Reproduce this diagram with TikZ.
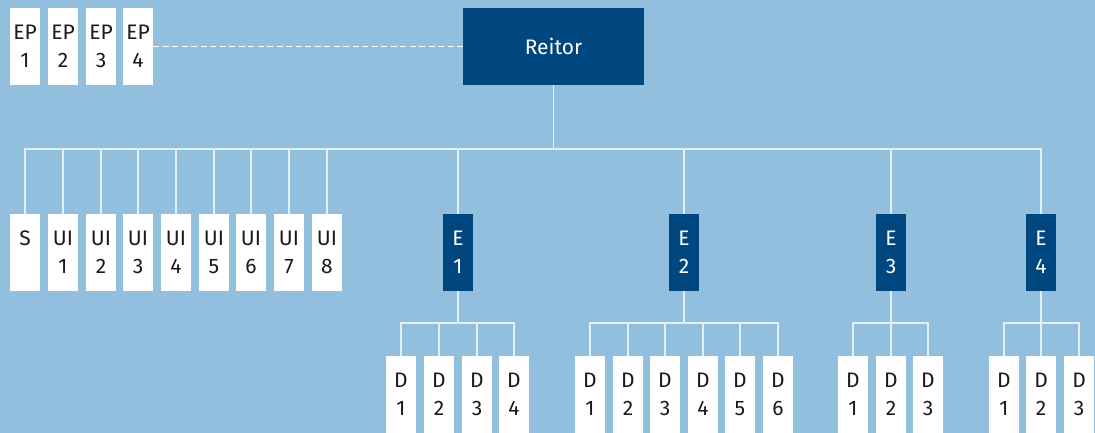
\documentclass[tikz,border=0pt]{standalone}
\usepackage{fontspec}
\setmainfont{Fira Sans}
\usepackage{tikz}
\usetikzlibrary{calc}
\definecolor{bgblue}{HTML}{93BFDE}
\definecolor{darkblue}{HTML}{00477F}
\definecolor{linecol}{HTML}{E4EEF7}
\definecolor{textmain}{HTML}{1A1A1A}

\begin{document}
\begin{tikzpicture}[x=1pt, y=-1pt,
    wbox/.style={fill=white, minimum width=30pt, minimum height=77pt,
                 inner sep=0pt, align=center, text=textmain,
                 font=\fontsize{21}{28}\selectfont},
    dbox/.style={wbox, fill=darkblue, text=white},
    link/.style={draw=linecol, line width=1.3pt},
  ]
  \fill[bgblue] (0,0) rectangle (1095,433);
  \useasboundingbox (0,0) rectangle (1095,433);

  % top
  \node[wbox] (ep1) at (25,46.5)  {EP\\1};
  \node[wbox] (ep2) at (63,46.5)  {EP\\2};
  \node[wbox] (ep3) at (101,46.5) {EP\\3};
  \node[wbox] (ep4) at (138,46.5) {EP\\4};
  \node[dbox, minimum width=181pt] (reitor) at (553.5,46.5) {Reitor};
  \draw[link, draw=white, dash pattern=on 6pt off 3.5pt] (ep4.east) -- (reitor.west);

  % second row
  \node[wbox] (s)   at (25,252.5)  {S\\\phantom{1}};
  \node[wbox] (ui1) at (63,252.5)  {UI\\1};
  \node[wbox] (ui2) at (101,252.5) {UI\\2};
  \node[wbox] (ui3) at (138,252.5) {UI\\3};
  \node[wbox] (ui4) at (176,252.5) {UI\\4};
  \node[wbox] (ui5) at (214,252.5) {UI\\5};
  \node[wbox] (ui6) at (251,252.5) {UI\\6};
  \node[wbox] (ui7) at (289,252.5) {UI\\7};
  \node[wbox] (ui8) at (327,252.5) {UI\\8};
  \node[dbox] (e1) at (458,252.5)  {E\\1};
  \node[dbox] (e2) at (684,252.5)  {E\\2};
  \node[dbox] (e3) at (891,252.5)  {E\\3};
  \node[dbox] (e4) at (1041,252.5) {E\\4};

  % third row
  \node[wbox] (d11) at (401,394.5) {D\\1};
  \node[wbox] (d12) at (439,394.5) {D\\2};
  \node[wbox] (d13) at (477,394.5) {D\\3};
  \node[wbox] (d14) at (514,394.5) {D\\4};
  \node[wbox] (d21) at (590,394.5) {D\\1};
  \node[wbox] (d22) at (628,394.5) {D\\2};
  \node[wbox] (d23) at (665,394.5) {D\\3};
  \node[wbox] (d24) at (703,394.5) {D\\4};
  \node[wbox] (d25) at (740,394.5) {D\\5};
  \node[wbox] (d26) at (778,394.5) {D\\6};
  \node[wbox] (d31) at (853,394.5) {D\\1};
  \node[wbox] (d32) at (891,394.5) {D\\2};
  \node[wbox] (d33) at (928,394.5) {D\\3};
  \node[wbox] (d41) at (1004,394.5) {D\\1};
  \node[wbox] (d42) at (1041,394.5) {D\\2};
  \node[wbox] (d43) at (1079,394.5) {D\\3};

  % connectors
  \coordinate (bus0) at (reitor.south |- 0,149);
  \draw[link] (reitor.south) -- (bus0);
  \foreach \c in {s,ui1,ui2,ui3,ui4,ui5,ui6,ui7,ui8,e1,e2,e3,e4}
    \draw[link] (bus0) -| (\c.north);

  \coordinate (bus1) at (e1.south |- 0,323);
  \coordinate (bus2) at (e2.south |- 0,323);
  \coordinate (bus3) at (e3.south |- 0,323);
  \coordinate (bus4) at (e4.south |- 0,323);
  \draw[link] (e1.south) -- (bus1);
  \draw[link] (e2.south) -- (bus2);
  \draw[link] (e3.south) -- (bus3);
  \draw[link] (e4.south) -- (bus4);
  \foreach \c in {d11,d12,d13,d14}
    \draw[link] (bus1) -| (\c.north);
  \foreach \c in {d21,d22,d23,d24,d25,d26}
    \draw[link] (bus2) -| (\c.north);
  \foreach \c in {d31,d32,d33}
    \draw[link] (bus3) -| (\c.north);
  \foreach \c in {d41,d42,d43}
    \draw[link] (bus4) -| (\c.north);
\end{tikzpicture}
\end{document}
